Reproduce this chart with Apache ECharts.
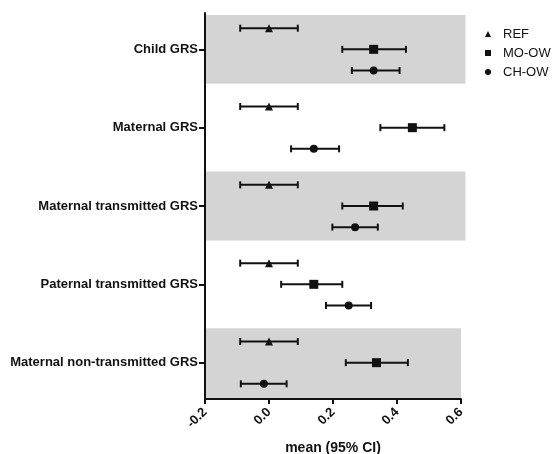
<!DOCTYPE html>
<html>
<head>
<meta charset="utf-8">
<script src="https://cdn.jsdelivr.net/npm/echarts@6/dist/echarts.min.js"></script>
<style>
  html, body { margin: 0; padding: 0; background: #fff; }
  #chart { width: 553px; height: 454px; }
</style>
</head>
<body>
<div id="chart"></div>
<script>
// groups, top to bottom
const groups = ['Child GRS', 'Maternal GRS', 'Maternal transmitted GRS', 'Paternal transmitted GRS', 'Maternal non-transmitted GRS'];
const xTicks = [-0.2, 0.0, 0.2, 0.4, 0.6];

// REF
const refMean = [0, 0, 0, 0, 0];
const refLow = [-0.09, -0.09, -0.09, -0.09, -0.09];
const refHigh = [0.09, 0.09, 0.09, 0.09, 0.09];

// MO-OW
const moMean = [0.327, 0.448, 0.327, 0.14, 0.336];
const moLow = [0.229, 0.348, 0.229, 0.038, 0.24];
const moHigh = [0.428, 0.548, 0.418, 0.229, 0.434];

// CH-OW
const chMean = [0.327, 0.14, 0.269, 0.249, -0.016];
const chLow = [0.259, 0.069, 0.198, 0.178, -0.088];
const chHigh = [0.408, 0.219, 0.34, 0.319, 0.055];

// shaded rows
const shadedGroups = [0, 2, 4];

const ink = '#111';
const font = '"Liberation Sans", Arial, sans-serif';
const rowOffset = { REF: -0.27, 'MO-OW': 0, 'CH-OW': 0.27 };
const yMin = -0.464, yMax = 4.464;

const chart = echarts.init(document.getElementById('chart'));

function pointData(mean, name) {
  return mean.map((m, i) => [m, i + rowOffset[name]]);
}
function barData(low, high, name) {
  return low.map((l, i) => [l, high[i], i + rowOffset[name]]);
}

function renderErr(params, api) {
  const y = api.value(2);
  const a = api.coord([api.value(0), y]);
  const b = api.coord([api.value(1), y]);
  const h = 3.5;
  const style = { stroke: ink, lineWidth: 2 };
  return {
    type: 'group',
    children: [
      { type: 'line', shape: { x1: a[0], y1: a[1], x2: b[0], y2: b[1] }, style },
      { type: 'line', shape: { x1: a[0], y1: a[1] - h, x2: a[0], y2: a[1] + h }, style },
      { type: 'line', shape: { x1: b[0], y1: b[1] - h, x2: b[0], y2: b[1] + h }, style }
    ]
  };
}

function errSeries(low, high, name) {
  return {
    type: 'custom',
    name: name + '-ci',
    renderItem: renderErr,
    encode: { x: [0, 1], y: 2 },
    data: barData(low, high, name),
    z: 3,
    silent: true
  };
}

function pointSeries(mean, name, symbol, size) {
  return {
    type: 'scatter',
    name: name,
    symbol: symbol,
    symbolSize: size,
    itemStyle: { color: ink, opacity: 1 },
    data: pointData(mean, name),
    z: 4
  };
}

const bandSeries = {
  type: 'custom',
  name: 'bands',
  silent: true,
  clip: false,
  z: 1,
  data: shadedGroups.map(g => [g - 0.44, g === 4 ? yMax : g + 0.44, g === 4 ? 0.6 : 0.614]),
  encode: { x: 2, y: [0, 1] },
  renderItem: function (params, api) {
    const p0 = api.coord([-0.2, api.value(0)]);
    const p1 = api.coord([api.value(2), api.value(1)]);
    return {
      type: 'rect',
      shape: { x: p0[0], y: p0[1], width: p1[0] - p0[0], height: p1[1] - p0[1] },
      style: { fill: '#d4d4d4' }
    };
  }
};

chart.setOption({
  animation: false,
  backgroundColor: '#fff',
  textStyle: { fontFamily: font },
  grid: { left: 205, right: 92, top: 13, bottom: 55, outerBoundsMode: 'none', containLabel: false },
  legend: {
    data: ['REF', 'MO-OW', 'CH-OW'],
    orient: 'vertical',
    left: 480,
    top: 22,
    itemWidth: 6,
    itemHeight: 6,
    itemGap: 5,
    textStyle: { fontSize: 13, color: ink, fontFamily: font, lineHeight: 14, padding: [0, 0, 0, 7] }
  },
  xAxis: {
    type: 'value',
    min: xTicks[0],
    max: xTicks[xTicks.length - 1],
    interval: 0.2,
    z: 10,
    name: 'mean (95% CI)',
    nameLocation: 'middle',
    nameGap: 42,
    nameTextStyle: { fontSize: 14, fontWeight: 'bold', color: ink, fontFamily: font },
    splitLine: { show: false },
    axisLine: { onZero: false, lineStyle: { color: ink, width: 2 } },
    axisTick: { length: 5, lineStyle: { color: ink, width: 2 } },
    axisLabel: {
      rotate: 45,
      margin: 11,
      fontSize: 13,
      fontWeight: 'bold',
      color: ink,
      fontFamily: font,
      formatter: v => v.toFixed(1)
    }
  },
  yAxis: {
    type: 'value',
    inverse: true,
    min: yMin,
    max: yMax,
    z: 10,
    splitLine: { show: false },
    axisLine: { onZero: false, lineStyle: { color: ink, width: 2 } },
    axisTick: { length: 6, customValues: [0, 1, 2, 3, 4], lineStyle: { color: ink, width: 2 } },
    axisLabel: {
      customValues: [0, 1, 2, 3, 4],
      margin: 7,
      fontSize: 13,
      fontWeight: 'bold',
      color: ink,
      fontFamily: font,
      formatter: v => groups[Math.round(v)]
    }
  },
  series: [
    bandSeries,
    errSeries(refLow, refHigh, 'REF'),
    errSeries(moLow, moHigh, 'MO-OW'),
    errSeries(chLow, chHigh, 'CH-OW'),
    pointSeries(refMean, 'REF', 'triangle', 8),
    pointSeries(moMean, 'MO-OW', 'rect', 9),
    pointSeries(chMean, 'CH-OW', 'circle', 8)
  ]
});
</script>
</body>
</html>
